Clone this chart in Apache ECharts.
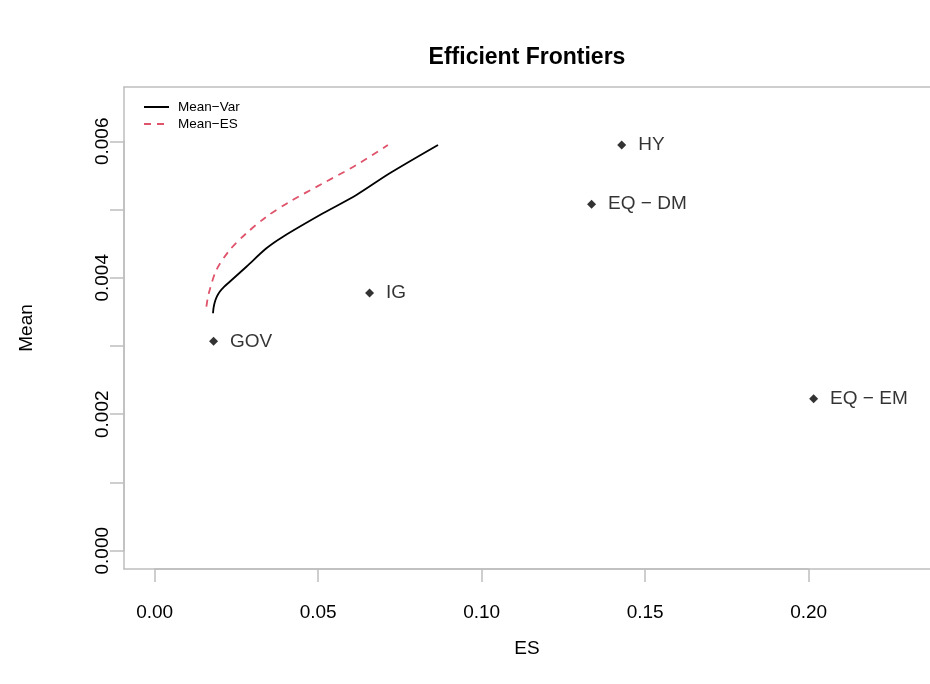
<!DOCTYPE html>
<html>
<head>
<meta charset="utf-8">
<script src="https://cdn.jsdelivr.net/npm/echarts@6/dist/echarts.min.js"></script>
<style>html,body{margin:0;padding:0;background:#fff}#c{width:930px;height:684px}</style>
</head>
<body>
<div id="c"></div>
<script>
// Asset points
const assetNames = ['GOV', 'IG', 'HY', 'EQ \u2212 DM', 'EQ \u2212 EM'];
const assetES = [0.0180, 0.0657, 0.1428, 0.1336, 0.2015];
const assetMean = [0.00307, 0.00378, 0.00595, 0.00508, 0.00223];

// Mean-Var frontier
const mvES = [0.01783, 0.01800, 0.01835, 0.01900, 0.01988, 0.02120, 0.02294, 0.02804, 0.03416, 0.03924, 0.05147, 0.06168, 0.07187, 0.08664];
const mvMean = [0.003481, 0.003560, 0.003640, 0.003725, 0.003798, 0.003870, 0.003944, 0.004164, 0.004434, 0.004604, 0.004947, 0.005216, 0.005534, 0.005949];

// Mean-ES frontier
const mesES = [0.01581, 0.01620, 0.01682, 0.01887, 0.02294, 0.02804, 0.03416, 0.04128, 0.05147, 0.06168, 0.07131];
const mesMean = [0.003578, 0.003700, 0.003823, 0.004116, 0.004409, 0.004654, 0.004897, 0.005117, 0.005387, 0.005655, 0.005949];

// Axis ticks
const xTickMin = 0, xTickMax = 0.20, xTickStep = 0.05;
const yTickMin = 0, yTickMax = 0.006, yTickStep = 0.001;

const seriesNames = ['Mean\u2212Var', 'Mean\u2212ES'];

const gray = '#BEBEBE';
const font = 'Liberation Sans, Arial, Helvetica, sans-serif';

const chart = echarts.init(document.getElementById('c'));

const pts = assetNames.map((n, i) => ({ name: n, value: [assetES[i], assetMean[i]] }));

const boxLine = { show: true, onZero: false, lineStyle: { color: gray, width: 1.5 } };
const hidden = { axisTick: { show: false }, axisLabel: { show: false }, splitLine: { show: false } };

chart.setOption({
  animation: false,
  textStyle: { fontFamily: font },
  legend: {
    orient: 'vertical',
    left: 138, top: 95,
    itemWidth: 25, itemHeight: 14, itemGap: 3,
    data: seriesNames,
    itemStyle: { opacity: 0 },
    textStyle: { fontSize: 13.5, color: '#000', fontFamily: font, padding: [0, 0, 0, 4] }
  },
  graphic: [
    { type: 'text', style: { text: 'Efficient Frontiers', x: 527, y: 58, textAlign: 'center', textVerticalAlign: 'middle', font: 'bold 23px ' + font, fill: '#000' } },
    { type: 'text', style: { text: 'ES', x: 527, y: 649, textAlign: 'center', textVerticalAlign: 'middle', font: '19px ' + font, fill: '#000' } },
    { type: 'text', x: 27, y: 328, rotation: Math.PI / 2, style: { text: 'Mean', x: 0, y: 0, textAlign: 'center', textVerticalAlign: 'middle', font: '19px ' + font, fill: '#000' } }
  ],
  grid: [
    { left: 124, top: 87, right: 0, height: 482, show: false },
    { left: 154.7, top: 141.3, width: 654, height: 409.4, show: false }
  ],
  xAxis: [
    Object.assign({ gridIndex: 0, type: 'value', position: 'bottom', min: -0.009388, max: 0.23709, axisLine: boxLine }, hidden),
    { gridIndex: 1, type: 'value', min: xTickMin, max: xTickMax, interval: xTickStep, offset: 18.3,
      axisLine: { show: true, onZero: false, lineStyle: { color: gray, width: 1.5 } },
      axisTick: { show: true, length: 13, lineStyle: { color: gray, width: 1.5 } },
      axisLabel: { show: true, margin: 34, fontSize: 19, color: '#000', fontFamily: font, formatter: v => v.toFixed(2) },
      splitLine: { show: false } },
    Object.assign({ gridIndex: 0, type: 'value', position: 'top', min: -0.009388, max: 0.23709, axisLine: boxLine }, hidden)
  ],
  yAxis: [
    Object.assign({ gridIndex: 0, type: 'value', position: 'left', min: -0.000268, max: 0.006799, axisLine: boxLine }, hidden),
    { gridIndex: 1, type: 'value', min: yTickMin, max: yTickMax, interval: yTickStep, offset: 30.7,
      axisLine: { show: true, onZero: false, lineStyle: { color: gray, width: 1.5 } },
      axisTick: { show: true, length: 14, lineStyle: { color: gray, width: 1.5 } },
      axisLabel: { show: true, rotate: 90, margin: 12, fontSize: 19, color: '#000', fontFamily: font,
        formatter: v => (Math.round(v * 1000) % 2 === 0 ? v.toFixed(3) : '') },
      splitLine: { show: false } }
  ],
  series: [
    { name: seriesNames[0], type: 'line', xAxisIndex: 0, yAxisIndex: 0, symbol: 'none', smooth: 0.3,
      data: mvES.map((x, i) => [x, mvMean[i]]),
      lineStyle: { color: '#000', width: 1.8 }, itemStyle: { color: '#000' } },
    { name: seriesNames[1], type: 'line', xAxisIndex: 0, yAxisIndex: 0, symbol: 'none', smooth: 0.3,
      data: mesES.map((x, i) => [x, mesMean[i]]),
      lineStyle: { color: '#DF536B', width: 1.8, type: [7, 6] }, itemStyle: { color: '#DF536B' } },
    { name: 'assets', type: 'scatter', xAxisIndex: 0, yAxisIndex: 0, symbol: 'diamond', symbolSize: 9,
      itemStyle: { color: '#000' },
      label: { show: true, position: 'right', distance: 12, formatter: '{b}', fontSize: 19, color: '#000', fontFamily: font },
      data: pts }
  ]
});
</script>
</body>
</html>
